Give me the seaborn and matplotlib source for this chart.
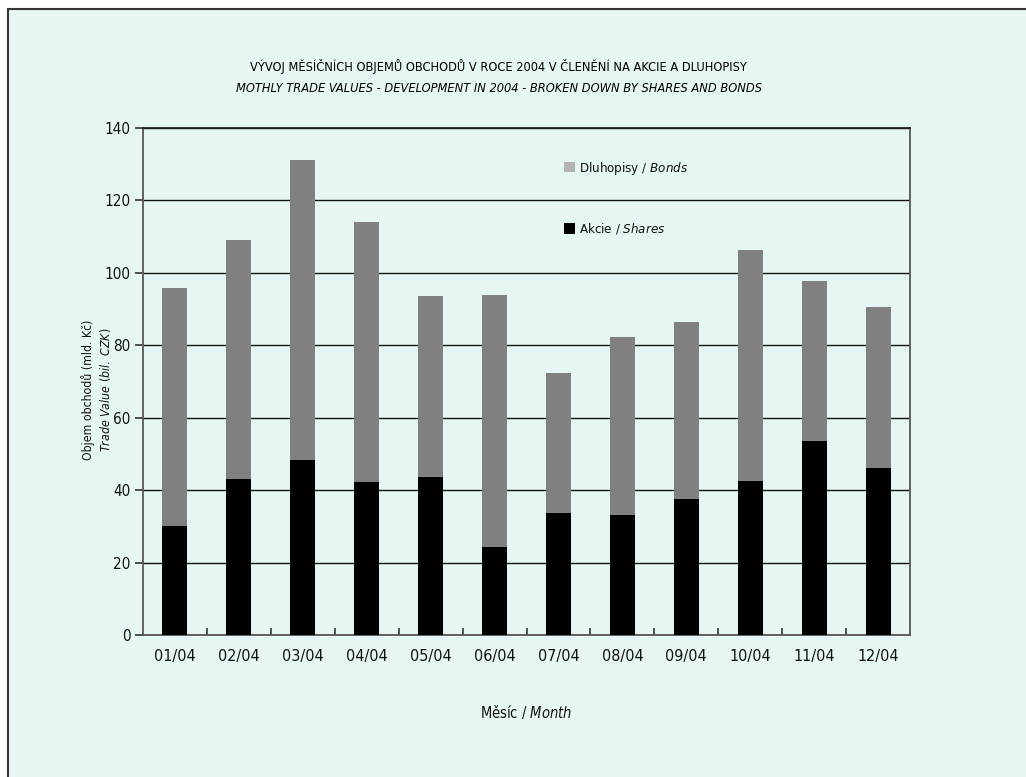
import pandas as pd
import numpy as np
import matplotlib
matplotlib.use("Agg")
import matplotlib.pyplot as plt
import seaborn as sns
from matplotlib.patches import Rectangle, Patch

months = ["01/04", "02/04", "03/04", "04/04", "05/04", "06/04",
          "07/04", "08/04", "09/04", "10/04", "11/04", "12/04"]
shares = [30.0, 43.1, 48.3, 42.3, 43.7, 24.3, 33.7, 33.1, 37.5, 42.5, 53.6, 46.1]
bonds = [65.7, 66.0, 83.0, 71.8, 50.0, 69.7, 38.6, 49.1, 48.8, 63.7, 44.2, 44.6]

df = pd.DataFrame({"Month": months, "Shares": shares, "Bonds": bonds})
df["Total"] = df["Shares"] + df["Bonds"]

bg = "#e6f6f4"
sns.set_theme(style="white")
plt.rcParams["font.family"] = ["DejaVu Sans"]
plt.rcParams["font.stretch"] = "condensed"
plt.rcParams["mathtext.fontset"] = "custom"
plt.rcParams["mathtext.it"] = "DejaVu Sans:italic:stretch=condensed"
plt.rcParams["mathtext.rm"] = "DejaVu Sans:stretch=condensed"

fig = plt.figure(figsize=(10.26, 7.77), dpi=100, facecolor="white")
fig.patches.append(Rectangle((8 / 1026, -0.01), 1.0, 1 - 9 / 777 + 0.01,
                             transform=fig.transFigure, facecolor=bg,
                             edgecolor="#333333", linewidth=1.5, zorder=-5))

ax = fig.add_axes([143 / 1026, 1 - 635 / 777, (910 - 143) / 1026, (635 - 128) / 777])
ax.set_facecolor(bg)

sns.barplot(data=df, x="Month", y="Total", color="#808080", width=0.39,
            saturation=1, linewidth=0, ax=ax, zorder=3)
sns.barplot(data=df, x="Month", y="Shares", color="#000000", width=0.39,
            saturation=1, linewidth=0, ax=ax, zorder=4)

ax.set_ylim(0, 140)
ax.set_xlim(-0.5, 11.5)
ax.set_yticks(np.arange(0, 141, 20))
ax.yaxis.grid(True, color="#111111", linewidth=1.0, zorder=1)
ax.set_axisbelow(True)
for s in ["left", "bottom", "right", "top"]:
    ax.spines[s].set_visible(True)
    ax.spines[s].set_color("#555555")
    ax.spines[s].set_linewidth(1.3)
ax.spines["top"].set_color("#222222")

ax.tick_params(axis="y", which="major", direction="out", length=6, width=1.2,
               color="#333333", labelsize=11, labelcolor="#111111", left=True,
               pad=3)
ax.tick_params(axis="x", which="major", length=0, labelsize=11.5,
               labelcolor="#111111", pad=10)
ax.set_xticks(np.arange(0.5, 11.5, 1.0), minor=True)
ax.tick_params(axis="x", which="minor", direction="in", length=5, width=1.2,
               color="#333333", bottom=True)

ax.set_xlabel("Měsíc / $\\mathit{Month}$", fontsize=10.5, color="#111111", labelpad=28)
ax.set_ylabel("Objem obchodů (mld. Kč)\n$\\mathit{Trade\\ Value\\ (bil.\\ CZK)}$",
              fontsize=8.8, color="#111111", linespacing=1.25)
ax.yaxis.set_label_coords(-0.039, 0.483)

fig.text(0.486, 1 - 67 / 777,
         "VÝVOJ MĚSÍČNÍCH OBJEMŮ OBCHODŮ V ROCE 2004 V ČLENĚNÍ NA AKCIE A DLUHOPISY",
         ha="center", va="center", fontsize=9.2, color="#000000")
fig.text(0.486, 1 - 89 / 777,
         "MOTHLY TRADE VALUES - DEVELOPMENT IN 2004 - BROKEN DOWN BY SHARES AND BONDS",
         ha="center", va="center", fontsize=9.2, style="italic", color="#000000")

handles = [Patch(facecolor="#b3b3b3", edgecolor="none"),
           Patch(facecolor="#000000", edgecolor="none")]
labels = ["Dluhopisy / $\\mathit{Bonds}$", "Akcie / $\\mathit{Shares}$"]
leg = ax.legend(handles, labels, loc="upper left", bbox_to_anchor=(0.537, 0.956),
                frameon=False, fontsize=9.5, labelspacing=3.4, handlelength=0.85,
                handleheight=0.85, handletextpad=0.3, borderpad=0.2)
for t in leg.get_texts():
    t.set_color("#111111")

fig.savefig("out.png", dpi=100, facecolor=fig.get_facecolor())
